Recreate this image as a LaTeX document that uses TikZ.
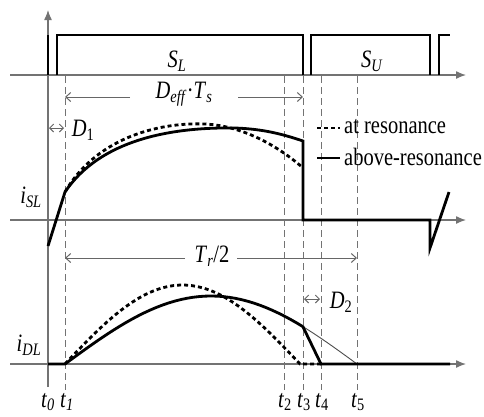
\documentclass[tikz,border=0pt]{standalone}
\usepackage{fontspec}
\setmainfont{Liberation Serif}[FakeStretch=0.82]
\usetikzlibrary{arrows.meta}
\begin{document}
\begin{tikzpicture}[x=1pt,y=-1pt,
  axisline/.style={draw=black!55, line width=1.3pt, -{Latex[length=10pt,width=8pt]}},
  guide/.style={draw=black!55, line width=0.9pt, dash pattern=on 7pt off 4pt},
  wave/.style={draw=black, line width=2.8pt, line join=miter},
  reson/.style={draw=black, line width=2.8pt, dash pattern=on 4pt off 3pt},
  thinwave/.style={draw=black!70, line width=0.9pt},
  dim/.style={draw=black!60, line width=1pt},
  lbl/.style={inner sep=0pt, font=\fontsize{25}{30}\selectfont},
]
\useasboundingbox (0,0) rectangle (484,416);

% axes
\draw[axisline] (48,387) -- (48,10);
\draw[axisline] (10,75) -- (466,75);
\draw[axisline] (10,220) -- (466,220);
\draw[axisline] (10,364) -- (466,364);

% guide lines
\foreach \gx in {65,284,303,321,357} \draw[guide] (\gx,76) -- (\gx,390);

% gate signals
\draw[wave] (48,75) -- (48,35);
\draw[wave] (57,75) -- (57,35) -- (303,35) -- (303,75);
\draw[wave] (311,75) -- (311,35) -- (430,35) -- (430,75);
\draw[wave] (439,75) -- (439,35) -- (450,35);
\node[lbl] (SL) at (177,61) {\textit{S}\textsubscript{\textit{L}}};
\node[lbl] (SU) at (372,61) {\textit{S}\textsubscript{\textit{U}}};

% D_eff * T_s
\node[lbl] (Deff) at (184,94) {\textit{D}\textsubscript{\textit{eff}}·\textit{T}\textsubscript{\textit{s}}};
\draw[dim,-{Straight Barb[length=5pt,width=9pt]}] (130,97) -- (65,97);
\draw[dim,-{Straight Barb[length=5pt,width=9pt]}] (238,97) -- (303,97);

% D1
\draw[dim,{Straight Barb[length=4pt,width=8pt]}-{Straight Barb[length=4pt,width=8pt]}] (49,128) -- (64,128);
\node[lbl] (D1) at (83,130) {\textit{D}\textsubscript{1}};

% legend
\draw[reson] (317,128) -- (340,128);
\node[lbl,anchor=west] (leg1) at (344,127) {at resonance};
\draw[wave] (317,158) -- (340,158);
\node[lbl,anchor=west] (leg2) at (344,157) {above-resonance};

% i_SL
\node[lbl] (iSL) at (31,197) {\textit{i}\textsubscript{\textit{SL}}};
\draw[reson] (65,192) .. controls (95,140) and (155,122) .. (205,124)
  .. controls (245,126) and (280,148) .. (302,167);
\draw[wave] (48,246) -- (65,192) .. controls (100,140) and (170,127) .. (235,128)
  .. controls (265,129) and (285,135) .. (303,141) -- (303,220) -- (430,220) -- (430,248) -- (449,192);

% T_r/2
\node[lbl] (Tr) at (212,256) {\textit{T}\textsubscript{\textit{r}}/2};
\draw[dim,-{Straight Barb[length=5pt,width=9pt]}] (185,258) -- (65,258);
\draw[dim,-{Straight Barb[length=5pt,width=9pt]}] (237,258) -- (357,258);

% D2
\draw[dim,{Straight Barb[length=4pt,width=8pt]}-{Straight Barb[length=4pt,width=8pt]}] (304,299) -- (320,299);
\node[lbl] (D2) at (341,302) {\textit{D}\textsubscript{2}};

% i_DL
\node[lbl] (iDL) at (29,345) {\textit{i}\textsubscript{\textit{DL}}};
\draw[reson] plot[domain=0:1,samples=40] ({65+235*\x},{364-79*sin(180*\x)}) -- (321,364);
\draw[thinwave] plot[domain=0.815:1,samples=10] ({65+292*\x},{364-68*sin(180*\x)});
\draw[wave] (48,364) -- (65,364) -- plot[domain=0:0.815,samples=40] ({65+292*\x},{364-68*sin(180*\x)}) -- (321,364) -- (450,364);

% time labels
\node[lbl] (lt0) at (48,402) {\textit{t}\textsubscript{\textit{0}}};
\node[lbl] (lt1) at (67,402) {\textit{t}\textsubscript{\textit{1}}};
\node[lbl] (lt2) at (285,402) {\textit{t}\textsubscript{2}};
\node[lbl] (lt3) at (304,402) {\textit{t}\textsubscript{3}};
\node[lbl] (lt4) at (322,402) {\textit{t}\textsubscript{4}};
\node[lbl] (lt5) at (358,402) {\textit{t}\textsubscript{5}};
\end{tikzpicture}
\end{document}
